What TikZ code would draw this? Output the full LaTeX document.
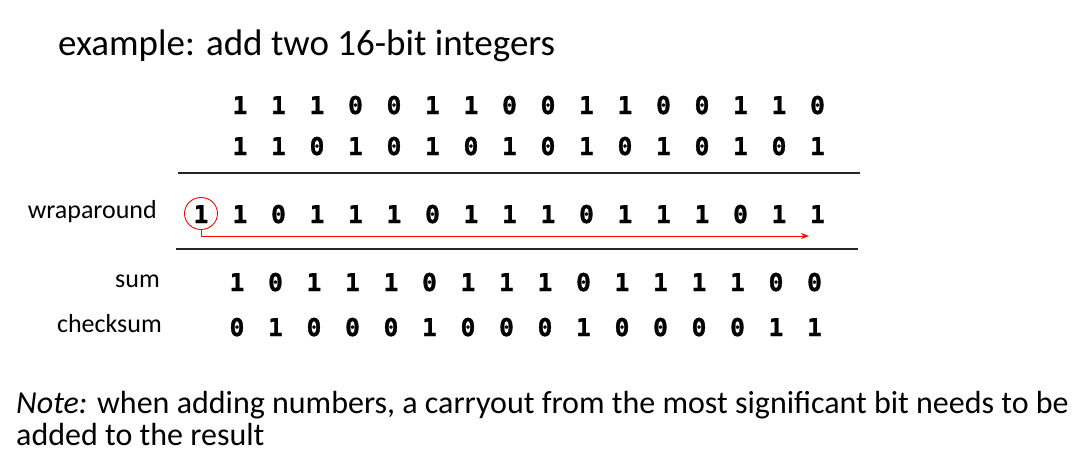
\documentclass[tikz,border=0pt]{standalone}
\usepackage{fontspec}
\setmainfont{Carlito}
\newfontfamily\digitfont{DejaVu Sans Mono Bold}[FakeBold=1.2]
\usetikzlibrary{arrows.meta,shapes.geometric}
\begin{document}
\begin{tikzpicture}[x=1pt,y=-1pt,
  bit/.style={inner sep=0pt, anchor=base, font=\digitfont\fontsize{24.5}{24.5}\selectfont},
  lbl/.style={inner sep=0pt, anchor=base east, font=\fontsize{26}{26}\selectfont},
  rule/.style={line width=1.3pt, black!85},
  carry/.style={red, line width=1pt, -{Stealth[length=8pt,width=6pt]}}]
\useasboundingbox (0,0) rectangle (1078,475);
\node[inner sep=0pt, anchor=base west, font=\fontsize{37}{37}\selectfont] (title) at (58,55) {example: add two 16-bit integers};
% row 1
\foreach \b [count=\i] in {1,1,1,0,0,1,1,0,0,1,1,0,0,1,1,0}
  \node[bit] (a\i) at ({240+38.5*(\i-1)},114) {\b};
% row 2
\foreach \b [count=\i] in {1,1,0,1,0,1,0,1,0,1,0,1,0,1,0,1}
  \node[bit] (b\i) at ({240+38.5*(\i-1)},155) {\b};
\coordinate (l1a) at (178,173);
\coordinate (l1b) at (860,173);
\draw[rule] (l1a) -- (l1b);
% wraparound row
\node[lbl] (wl) at (157,218) {wraparound};
\node[bit] (w0) at (201,223) {1};
\node[draw=red, line width=0.9pt, ellipse, minimum width=33pt, minimum height=32pt, inner sep=0pt] (circ) at (201,213.5) {};
\foreach \b [count=\i] in {1,0,1,1,1,0,1,1,1,0,1,1,1,0,1,1}
  \node[bit] (w\i) at ({240+38.5*(\i-1)},223) {\b};
\coordinate (bend) at (201,236);
\coordinate (aend) at (809,236);
\draw[carry] (circ.south) -- (bend) -- (aend);
\coordinate (l2a) at (176,249);
\coordinate (l2b) at (858,249);
\draw[rule] (l2a) -- (l2b);
% sum
\node[lbl] (sl) at (160,287) {sum};
\foreach \b [count=\i] in {1,0,1,1,1,0,1,1,1,0,1,1,1,1,0,0}
  \node[bit] (s\i) at ({237+38.5*(\i-1)},291) {\b};
% checksum
\node[lbl] (cl) at (162,332) {checksum};
\foreach \b [count=\i] in {0,1,0,0,0,1,0,0,0,1,0,0,0,0,1,1}
  \node[bit] (k\i) at ({237+38.5*(\i-1)},336) {\b};
% note
\node[inner sep=0pt, anchor=base west, align=left, font=\fontsize{32}{32}\selectfont] (note) at (16,445)
  {\textit{Note:} when adding numbers, a carryout from the most significant bit needs to be\\added to the result};
\end{tikzpicture}
\end{document}
